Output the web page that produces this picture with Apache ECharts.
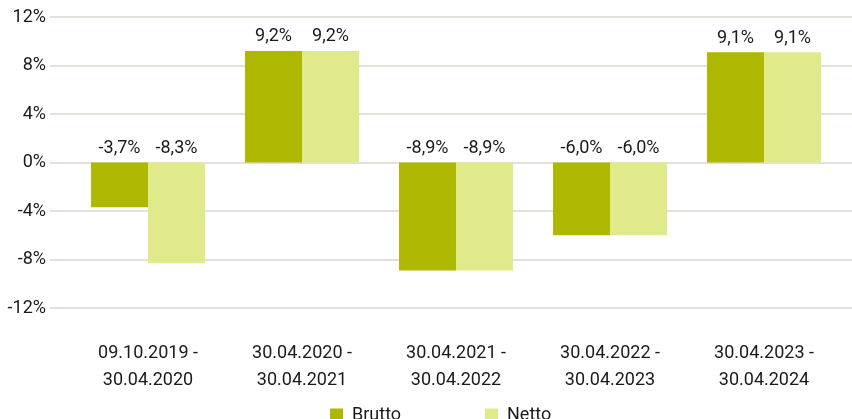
<!DOCTYPE html>
<html>
<head>
<meta charset="utf-8">
<script src="https://cdn.jsdelivr.net/npm/echarts@6/dist/echarts.min.js"></script>
<style>html,body{margin:0;padding:0;background:#fff}#c{width:852px;height:419px}</style>
</head>
<body>
<div id="c"></div>
<script>
const categories = ["09.10.2019 -\n30.04.2020", "30.04.2020 -\n30.04.2021", "30.04.2021 -\n30.04.2022", "30.04.2022 -\n30.04.2023", "30.04.2023 -\n30.04.2024"];
const brutto = [-3.7, 9.2, -8.9, -6.0, 9.1];
const netto = [-8.3, 9.2, -8.9, -6.0, 9.1];
const yTicks = { min: -12, max: 12, interval: 4 };

const FONT = 'Roboto';
const FS = 18;
const TXT = '#1a1a1a';
const fmt = v => v.toFixed(1).replace('.', ',') + '%';

const chart = echarts.init(document.getElementById('c'));
chart.setOption({
  animation: false,
  grid: [
    { left: 50, right: 0, top: 17, bottom: 111 },
    { left: 71, right: 11, top: 17, bottom: 111 }
  ],
  xAxis: [
    { gridIndex: 0, type: 'value', show: false, min: 0, max: 1 },
    {
      gridIndex: 1, type: 'category', data: categories,
      axisLine: { show: false, onZero: false }, axisTick: { show: false },
      axisLabel: { margin: 32, fontFamily: FONT, fontSize: FS, color: TXT, lineHeight: 27 }
    }
  ],
  yAxis: [
    {
      gridIndex: 0, type: 'value', min: yTicks.min, max: yTicks.max, interval: yTicks.interval,
      axisLine: { show: false }, axisTick: { show: false },
      axisLabel: { margin: 4, fontFamily: FONT, fontSize: FS, color: TXT, formatter: v => v + '%' },
      splitLine: { lineStyle: { color: '#E4E0DA', width: 2 } }
    },
    {
      gridIndex: 1, type: 'value', min: yTicks.min, max: yTicks.max, interval: yTicks.interval,
      show: false, splitLine: { show: false }
    }
  ],
  legend: [
    { data: ['Brutto'], left: 325, top: 401, itemWidth: 13, itemHeight: 13, icon: 'rect',
      textStyle: { fontFamily: FONT, fontSize: FS, color: TXT, padding: [0, 0, 0, 4] } },
    { data: ['Netto'], left: 480, top: 401, itemWidth: 13, itemHeight: 13, icon: 'rect',
      textStyle: { fontFamily: FONT, fontSize: FS, color: TXT, padding: [0, 0, 0, 4] } }
  ],
  series: [
    {
      name: 'Brutto', type: 'bar', xAxisIndex: 1, yAxisIndex: 1, data: brutto,
      barGap: '0%', barCategoryGap: '26%',
      itemStyle: { color: '#AFB800' },
      label: { show: true, position: 'top', distance: 5, fontFamily: FONT, fontSize: FS, color: TXT, formatter: p => fmt(p.value) }
    },
    {
      name: 'Netto', type: 'bar', xAxisIndex: 1, yAxisIndex: 1, data: netto,
      barGap: '0%', barCategoryGap: '26%',
      itemStyle: { color: '#E1EA8A' },
      label: { show: true, position: 'top', distance: 5, fontFamily: FONT, fontSize: FS, color: TXT, formatter: p => fmt(p.value) }
    }
  ]
});
</script>
</body>
</html>
